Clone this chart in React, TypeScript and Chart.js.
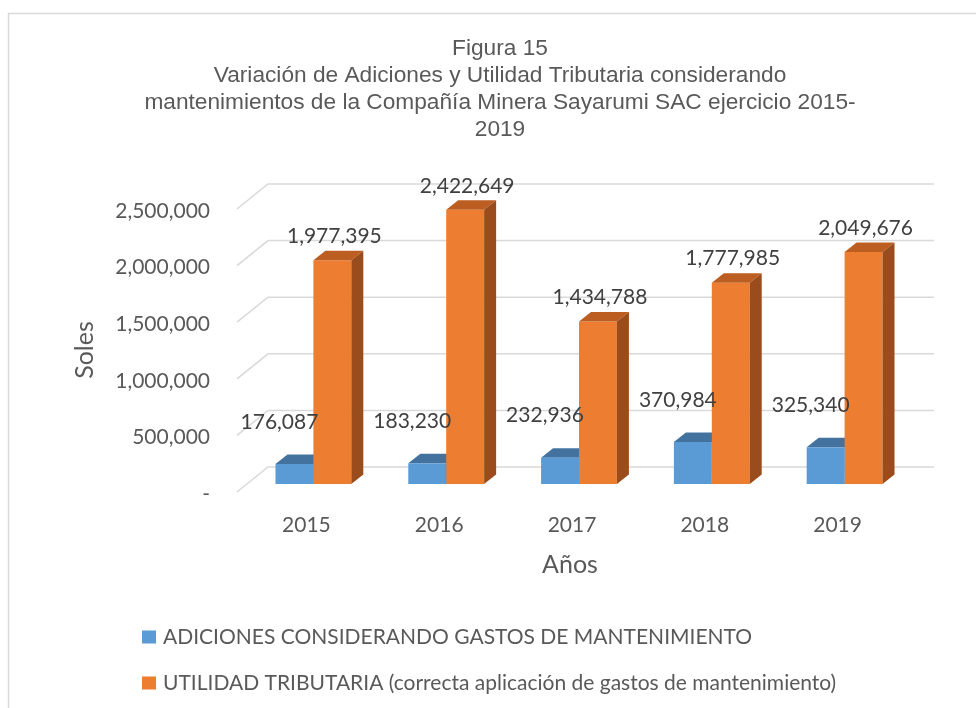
import React, { useEffect, useRef } from 'react';
import { Chart, registerables } from 'chart.js';

Chart.register(...registerables);

const titleLines = [
  'Figura 15',
  'Variación de Adiciones y Utilidad Tributaria considerando',
  'mantenimientos de la Compañía Minera Sayarumi SAC ejercicio 2015-',
  '2019',
];
const categories = ['2015', '2016', '2017', '2018', '2019'];
const adiciones = [176087, 183230, 232936, 370984, 325340];
const utilidad = [1977395, 2422649, 1434788, 1777985, 2049676];
const yTickValues = [0, 500000, 1000000, 1500000, 2000000, 2500000];
const yTickLabels = ['-', '500,000', '1,000,000', '1,500,000', '2,000,000', '2,500,000'];
const seriesNames = [
  'ADICIONES CONSIDERANDO GASTOS DE MANTENIMIENTO',
  'UTILIDAD TRIBUTARIA (correcta aplicación de gastos de mantenimiento)',
];
const yAxisTitle = 'Soles';
const xAxisTitle = 'Años';

const W = 976;
const H = 708;
const FONT = 'Lato, "Open Sans", sans-serif';
const TITLE_FONT = '"Liberation Sans", Arial, sans-serif';
const frontColors = ['#5B9BD5', '#ED7D31'];
const topColors = ['#44729F', '#BC5E21'];
const sideColors = ['#3A6189', '#9A4C1C'];
const DX = 12;
const DY = -9.5;

const fmt = (v: number) => v.toLocaleString('en-US');

function draw3D(chart: any, dsIndex: number) {
  const ctx = chart.ctx;
  const meta = chart.getDatasetMeta(dsIndex);
  ctx.save();
  meta.data.forEach((bar: any) => {
    const { x, y, base, width } = bar.getProps(['x', 'y', 'base', 'width'], true);
    const l = x - width / 2;
    const r = x + width / 2;
    ctx.fillStyle = topColors[dsIndex];
    ctx.beginPath();
    ctx.moveTo(l, y);
    ctx.lineTo(l + DX, y + DY);
    ctx.lineTo(r + DX, y + DY);
    ctx.lineTo(r, y);
    ctx.closePath();
    ctx.fill();
    ctx.fillStyle = sideColors[dsIndex];
    ctx.beginPath();
    ctx.moveTo(r, y);
    ctx.lineTo(r + DX, y + DY);
    ctx.lineTo(r + DX, base + DY);
    ctx.lineTo(r, base);
    ctx.closePath();
    ctx.fill();
  });
  ctx.restore();
}

const decorPlugin = {
  id: 'decor',
  beforeDraw(chart: any) {
    const ctx = chart.ctx;
    ctx.save();
    ctx.fillStyle = '#ffffff';
    ctx.fillRect(0, 0, W, H);
    ctx.strokeStyle = '#d9d9d9';
    ctx.lineWidth = 1.5;
    ctx.beginPath();
    ctx.moveTo(8.5, H);
    ctx.lineTo(8.5, 13.5);
    ctx.lineTo(W, 13.5);
    ctx.stroke();
    ctx.restore();
  },
  beforeDatasetsDraw(chart: any) {
    const ctx = chart.ctx;
    const yScale = chart.scales.y;
    const area = chart.chartArea;
    ctx.save();
    ctx.strokeStyle = '#d9d9d9';
    ctx.lineWidth = 1.5;
    yTickValues.forEach((v) => {
      const y = yScale.getPixelForValue(v) - 17;
      ctx.beginPath();
      ctx.moveTo(area.left - 10, y + 25);
      ctx.lineTo(area.left + 21, y);
      ctx.lineTo(area.right + 23, y);
      ctx.stroke();
    });
    ctx.restore();
    draw3D(chart, 0);
  },
  afterDatasetsDraw(chart: any) {
    draw3D(chart, 1);
    const ctx = chart.ctx;
    ctx.save();
    ctx.fillStyle = '#404040';
    ctx.font = `21px ${FONT}`;
    ctx.textAlign = 'center';
    ctx.textBaseline = 'middle';
    const m0 = chart.getDatasetMeta(0);
    const m1 = chart.getDatasetMeta(1);
    m0.data.forEach((bar: any, i: number) => {
      const { x, y } = bar.getProps(['x', 'y'], true);
      ctx.fillText(fmt(adiciones[i]), x - 15, y - 42);
    });
    m1.data.forEach((bar: any, i: number) => {
      const { x, y } = bar.getProps(['x', 'y'], true);
      ctx.fillText(fmt(utilidad[i]), x + 2, y - 24);
    });
    ctx.restore();
  },
  afterDraw(chart: any) {
    const ctx = chart.ctx;
    const yScale = chart.scales.y;
    const xScale = chart.scales.x;
    ctx.save();
    ctx.fillStyle = '#595959';
    ctx.font = `22.7px ${TITLE_FONT}`;
    ctx.textAlign = 'center';
    ctx.textBaseline = 'middle';
    titleLines.forEach((t, i) => ctx.fillText(t, 500, 48.5 + i * 27.2));
    ctx.font = `21px ${FONT}`;
    ctx.textAlign = 'right';
    yTickValues.forEach((v, i) => {
      ctx.fillText(yTickLabels[i], 210, yScale.getPixelForValue(v) + 10);
    });
    ctx.textAlign = 'center';
    categories.forEach((c, i) => {
      ctx.fillText(c, xScale.getPixelForTick(i) - 7, 525);
    });
    ctx.font = `25px ${FONT}`;
    ctx.fillText(xAxisTitle, 570, 565);
    ctx.save();
    ctx.translate(85, 350);
    ctx.rotate(-Math.PI / 2);
    ctx.fillText(yAxisTitle, 0, 0);
    ctx.restore();
    ctx.font = `21px ${FONT}`;
    ctx.textAlign = 'left';
    const legendY = [637, 683];
    seriesNames.forEach((name, i) => {
      ctx.fillStyle = frontColors[i];
      ctx.fillRect(142, legendY[i] - 6.5, 14, 13);
      ctx.fillStyle = '#595959';
      ctx.fillText(name, 163, legendY[i]);
    });
    ctx.restore();
  },
};

export default function App() {
  const ref = useRef<HTMLCanvasElement | null>(null);
  useEffect(() => {
    if (!ref.current) return;
    const chart = new Chart(ref.current, {
      type: 'bar',
      data: {
        labels: categories,
        datasets: [
          {
            label: seriesNames[0],
            data: adiciones,
            backgroundColor: frontColors[0],
            borderWidth: 0,
            categoryPercentage: 0.571,
            barPercentage: 1,
          },
          {
            label: seriesNames[1],
            data: utilidad,
            backgroundColor: frontColors[1],
            borderWidth: 0,
            categoryPercentage: 0.571,
            barPercentage: 1,
          },
        ],
      },
      options: {
        responsive: false,
        animation: false,
        devicePixelRatio: 1,
        layout: { padding: { left: 247, right: 65, top: 201, bottom: 224 } },
        scales: {
          x: { display: false },
          y: { display: false, min: 0, max: 2500000 },
        },
        plugins: {
          legend: { display: false },
          title: { display: false },
          tooltip: { enabled: false },
        },
      },
      plugins: [decorPlugin],
    });
    return () => chart.destroy();
  }, []);
  return (
    <div style={{ position: 'fixed', left: 0, top: 0, width: W, height: H, background: '#fff' }}>
      <canvas ref={ref} width={W} height={H} style={{ display: 'block' }} />
    </div>
  );
}
